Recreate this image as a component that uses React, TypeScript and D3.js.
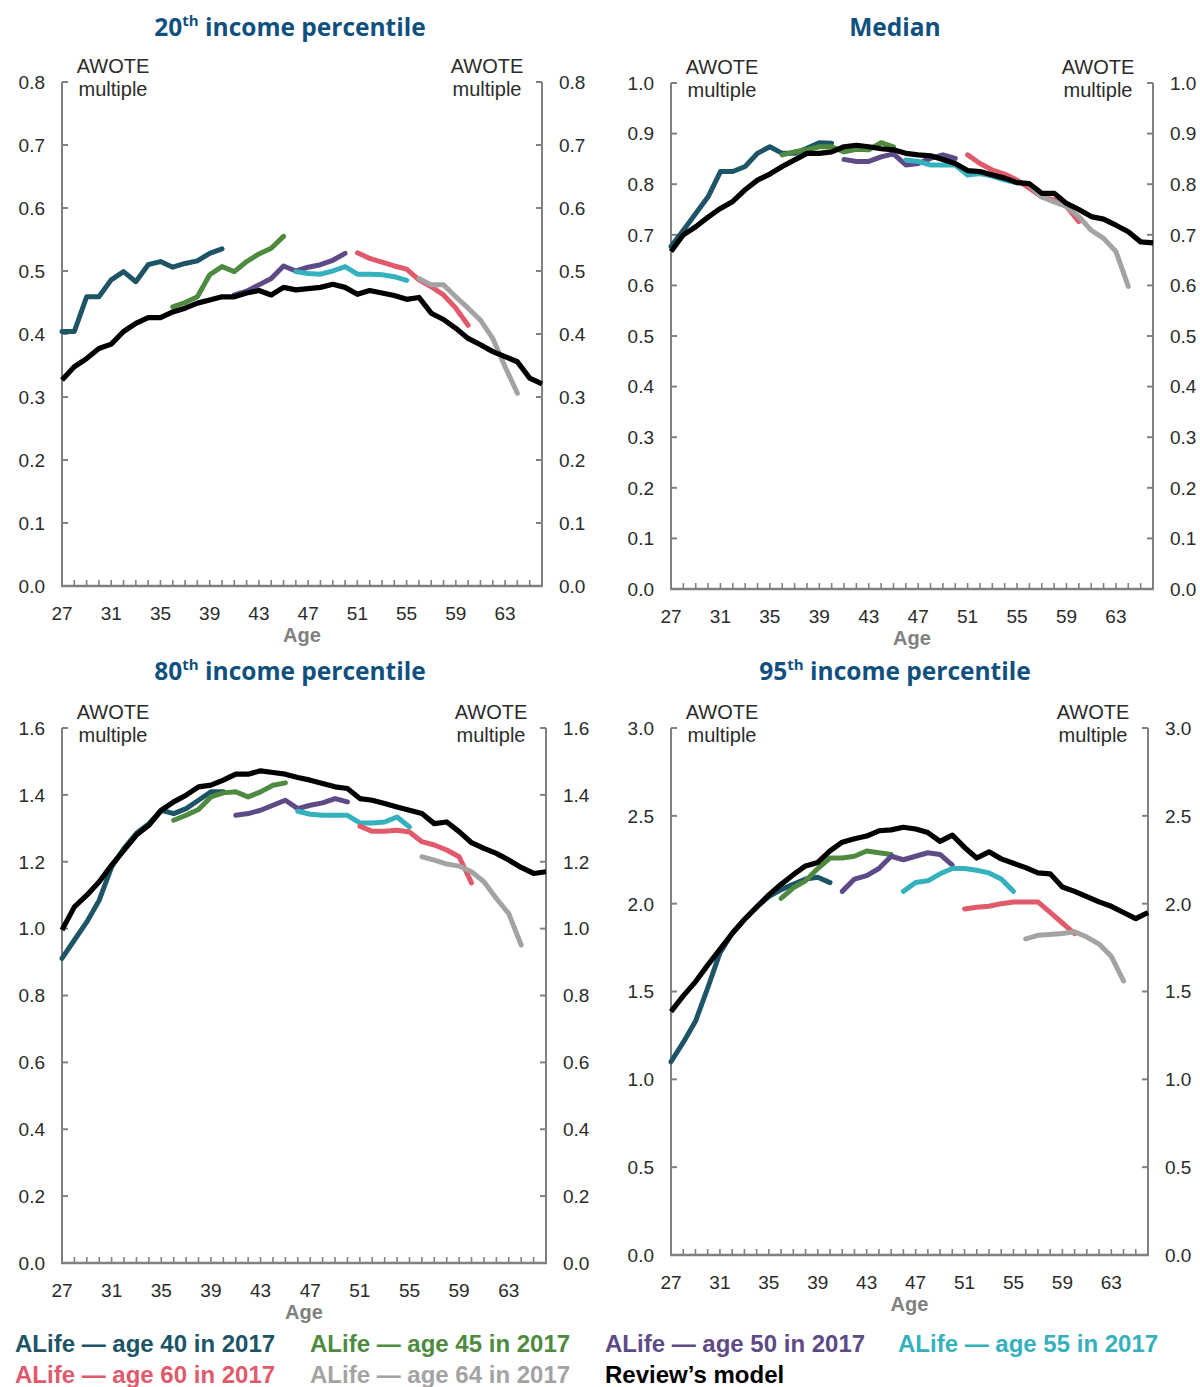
import React from 'react';
import * as d3 from 'd3';

// Ages on the horizontal axis and the labelled ones
const ages = d3.range(27, 67);
const ageTickLabels = [27, 31, 35, 39, 43, 47, 51, 55, 59, 63];

// ALife cohorts: legend text, colour and first age observed
const cohortNames = [
  'ALife \u2014 age 40 in 2017',
  'ALife \u2014 age 45 in 2017',
  'ALife \u2014 age 50 in 2017',
  'ALife \u2014 age 55 in 2017',
  'ALife \u2014 age 60 in 2017',
  'ALife \u2014 age 64 in 2017',
];
const cohortColors = ['#1d5466', '#4e8a3f', '#5e4a86', '#35b1bd', '#e05a6c', '#a3a3a3'];
const cohortFirstAge = [27, 36, 41, 46, 51, 56];
const modelName = 'Review\u2019s model';
const modelColor = '#000000';

// 20th income percentile (AWOTE multiple)
const p20Model = [0.327, 0.348, 0.361, 0.377, 0.384, 0.404, 0.417, 0.426, 0.426, 0.435, 0.441, 0.449, 0.454, 0.459, 0.459, 0.465, 0.469, 0.462, 0.474, 0.470, 0.472, 0.474, 0.479, 0.474, 0.463, 0.469, 0.465, 0.461, 0.455, 0.458, 0.433, 0.423, 0.409, 0.393, 0.383, 0.372, 0.364, 0.356, 0.330, 0.321];
const p20Age40 = [0.404, 0.404, 0.459, 0.459, 0.486, 0.499, 0.483, 0.510, 0.515, 0.506, 0.512, 0.516, 0.528, 0.535];
const p20Age45 = [0.443, 0.450, 0.459, 0.494, 0.507, 0.499, 0.515, 0.527, 0.536, 0.555];
const p20Age50 = [0.462, 0.468, 0.478, 0.488, 0.508, 0.500, 0.506, 0.510, 0.517, 0.528];
const p20Age55 = [0.499, 0.496, 0.495, 0.500, 0.507, 0.495, 0.495, 0.494, 0.491, 0.485];
const p20Age60 = [0.529, 0.520, 0.514, 0.508, 0.503, 0.486, 0.475, 0.462, 0.441, 0.414];
const p20Age64 = [0.488, 0.478, 0.478, 0.459, 0.441, 0.422, 0.393, 0.348, 0.306];
const p20Ticks = [0, 0.1, 0.2, 0.3, 0.4, 0.5, 0.6, 0.7, 0.8];

// Median
const medModel = [0.667, 0.700, 0.716, 0.735, 0.752, 0.766, 0.789, 0.808, 0.820, 0.835, 0.848, 0.861, 0.861, 0.864, 0.874, 0.877, 0.874, 0.870, 0.868, 0.861, 0.858, 0.856, 0.849, 0.841, 0.827, 0.825, 0.818, 0.812, 0.803, 0.801, 0.782, 0.782, 0.762, 0.750, 0.736, 0.731, 0.719, 0.706, 0.686, 0.684];
const medAge40 = [0.677, 0.709, 0.742, 0.775, 0.825, 0.825, 0.835, 0.861, 0.874, 0.861, 0.861, 0.871, 0.882, 0.881];
const medAge45 = [0.858, 0.864, 0.868, 0.874, 0.874, 0.864, 0.869, 0.868, 0.882, 0.874];
const medAge50 = [0.849, 0.845, 0.845, 0.854, 0.860, 0.838, 0.841, 0.851, 0.858, 0.851];
const medAge55 = [0.848, 0.845, 0.838, 0.838, 0.838, 0.818, 0.821, 0.816, 0.808, 0.803];
const medAge60 = [0.858, 0.841, 0.828, 0.820, 0.808, 0.792, 0.775, 0.769, 0.756, 0.726];
const medAge64 = [0.798, 0.775, 0.765, 0.756, 0.736, 0.709, 0.693, 0.667, 0.598];
const medTicks = [0, 0.1, 0.2, 0.3, 0.4, 0.5, 0.6, 0.7, 0.8, 0.9, 1.0];

// 80th income percentile
const p80Model = [0.996, 1.065, 1.100, 1.140, 1.190, 1.235, 1.280, 1.309, 1.354, 1.379, 1.399, 1.424, 1.429, 1.444, 1.462, 1.462, 1.472, 1.467, 1.462, 1.452, 1.444, 1.434, 1.424, 1.419, 1.389, 1.384, 1.374, 1.364, 1.354, 1.344, 1.314, 1.319, 1.290, 1.257, 1.240, 1.225, 1.205, 1.183, 1.165, 1.170];
const p80Age40 = [0.911, 0.966, 1.020, 1.085, 1.185, 1.240, 1.285, 1.314, 1.354, 1.344, 1.359, 1.384, 1.409, 1.409];
const p80Age45 = [1.324, 1.339, 1.356, 1.394, 1.406, 1.409, 1.394, 1.409, 1.429, 1.436];
const p80Age50 = [1.339, 1.344, 1.354, 1.369, 1.384, 1.359, 1.369, 1.376, 1.389, 1.379];
const p80Age55 = [1.351, 1.342, 1.339, 1.339, 1.339, 1.316, 1.316, 1.319, 1.334, 1.304];
const p80Age60 = [1.306, 1.291, 1.291, 1.294, 1.289, 1.260, 1.250, 1.235, 1.215, 1.137];
const p80Age64 = [1.215, 1.205, 1.193, 1.187, 1.170, 1.140, 1.090, 1.045, 0.951];
const p80Ticks = [0, 0.2, 0.4, 0.6, 0.8, 1.0, 1.2, 1.4, 1.6];

// 95th income percentile
const p95Model = [1.385, 1.475, 1.555, 1.650, 1.740, 1.830, 1.910, 1.980, 2.050, 2.110, 2.165, 2.215, 2.235, 2.300, 2.350, 2.370, 2.385, 2.415, 2.420, 2.435, 2.425, 2.405, 2.355, 2.390, 2.320, 2.260, 2.295, 2.255, 2.230, 2.205, 2.175, 2.170, 2.095, 2.070, 2.040, 2.010, 1.985, 1.950, 1.915, 1.950];
const p95Age40 = [1.10, 1.21, 1.33, 1.52, 1.72, 1.83, 1.91, 1.98, 2.04, 2.08, 2.11, 2.14, 2.15, 2.12];
const p95Age45 = [2.03, 2.09, 2.13, 2.20, 2.26, 2.26, 2.27, 2.30, 2.29, 2.28];
const p95Age50 = [2.07, 2.14, 2.16, 2.20, 2.27, 2.25, 2.27, 2.29, 2.28, 2.22];
const p95Age55 = [2.07, 2.12, 2.13, 2.17, 2.20, 2.20, 2.19, 2.175, 2.14, 2.07];
const p95Age60 = [1.97, 1.98, 1.985, 2.00, 2.01, 2.01, 2.01, 1.95, 1.89, 1.83];
const p95Age64 = [1.80, 1.82, 1.825, 1.83, 1.84, 1.81, 1.77, 1.70, 1.56];
const p95Ticks = [0, 0.5, 1.0, 1.5, 2.0, 2.5, 3.0];

type PanelSpec = {
  titleNum: string;
  titleSup: string;
  titleRest: string;
  cx: number;
  titleY: number;
  x0: number;
  x1: number;
  yTop: number;
  yBottom: number;
  ticks: number[];
  model: number[];
  cohorts: number[][];
};

const panels: PanelSpec[] = [
  { titleNum: '20', titleSup: 'th', titleRest: ' income percentile', cx: 290, titleY: 36, x0: 62, x1: 542, yTop: 82, yBottom: 586, ticks: p20Ticks, model: p20Model, cohorts: [p20Age40, p20Age45, p20Age50, p20Age55, p20Age60, p20Age64] },
  { titleNum: '', titleSup: '', titleRest: 'Median', cx: 895, titleY: 36, x0: 671, x1: 1153, yTop: 83, yBottom: 589, ticks: medTicks, model: medModel, cohorts: [medAge40, medAge45, medAge50, medAge55, medAge60, medAge64] },
  { titleNum: '80', titleSup: 'th', titleRest: ' income percentile', cx: 290, titleY: 680, x0: 62, x1: 546, yTop: 728, yBottom: 1263, ticks: p80Ticks, model: p80Model, cohorts: [p80Age40, p80Age45, p80Age50, p80Age55, p80Age60, p80Age64] },
  { titleNum: '95', titleSup: 'th', titleRest: ' income percentile', cx: 895, titleY: 680, x0: 671, x1: 1148, yTop: 728, yBottom: 1255, ticks: p95Ticks, model: p95Model, cohorts: [p95Age40, p95Age45, p95Age50, p95Age55, p95Age60, p95Age64] },
];

const FONT = "'Liberation Sans', Arial, Helvetica, sans-serif";
const TITLE_FONT = "'Open Sans', 'Noto Sans', sans-serif";
const AXIS = '#808080';
const TEXT = '#2b2b2b';

function Panel({ p }: { p: PanelSpec }) {
  const yMax = p.ticks[p.ticks.length - 1];
  const x = d3.scaleLinear().domain([ages[0], ages[ages.length - 1]]).range([p.x0, p.x1]);
  const y = d3.scaleLinear().domain([0, yMax]).range([p.yBottom, p.yTop]);
  const line = d3
    .line<[number, number]>()
    .x((d) => x(d[0]))
    .y((d) => y(d[1]));
  const fmt = d3.format('.1f');
  const tick = 6;
  const series = p.cohorts.map((vals, i) => ({
    color: cohortColors[i],
    pts: vals.map((v, k) => [cohortFirstAge[i] + k, v] as [number, number]),
  }));
  const modelPts = p.model.map((v, k) => [ages[k], v] as [number, number]);

  return (
    <g>
      <text x={p.cx} y={p.titleY} textAnchor="middle" fontFamily={TITLE_FONT} fontWeight={700} fontSize={24.5} fill="#10507f">
        {p.titleNum && <tspan>{p.titleNum}</tspan>}
        {p.titleSup && (
          <tspan dy={-10} fontSize={15}>
            {p.titleSup}
          </tspan>
        )}
        <tspan dy={p.titleSup ? 10 : 0}>{p.titleRest}</tspan>
      </text>

      {/* axis frame */}
      <line x1={p.x0} x2={p.x0} y1={p.yTop} y2={p.yBottom + 1} stroke={AXIS} strokeWidth={2} />
      <line x1={p.x1} x2={p.x1} y1={p.yTop} y2={p.yBottom + 1} stroke={AXIS} strokeWidth={2} />
      <line x1={p.x0 - 1} x2={p.x1 + 1} y1={p.yBottom} y2={p.yBottom} stroke={AXIS} strokeWidth={2.5} />

      {/* value ticks and labels on both sides */}
      {p.ticks.map((t) => (
        <g key={t}>
          <line x1={p.x0} x2={p.x0 + tick} y1={y(t)} y2={y(t)} stroke={AXIS} strokeWidth={2} />
          <line x1={p.x1} x2={p.x1 - tick} y1={y(t)} y2={y(t)} stroke={AXIS} strokeWidth={2} />
          <text x={p.x0 - 17} y={y(t)} dy="0.36em" textAnchor="end" fontFamily={FONT} fontSize={19} fill={TEXT}>
            {fmt(t)}
          </text>
          <text x={p.x1 + 17} y={y(t)} dy="0.36em" textAnchor="start" fontFamily={FONT} fontSize={19} fill={TEXT}>
            {fmt(t)}
          </text>
        </g>
      ))}

      {/* yearly ticks on the age axis */}
      {ages.slice(1, -1).map((a) => (
        <line key={a} x1={x(a)} x2={x(a)} y1={p.yBottom} y2={p.yBottom - tick} stroke={AXIS} strokeWidth={1.6} />
      ))}
      {ageTickLabels.map((a) => (
        <text key={a} x={x(a)} y={p.yBottom + 34} textAnchor="middle" fontFamily={FONT} fontSize={19} fill={TEXT}>
          {a}
        </text>
      ))}
      <text x={(p.x0 + p.x1) / 2} y={p.yBottom + 56} textAnchor="middle" fontFamily={FONT} fontWeight={700} fontSize={20} fill="#808080">
        Age
      </text>

      {/* unit labels */}
      {[p.x0 + 51, p.x1 - 55].map((cx, i) => (
        <text key={i} x={cx} textAnchor="middle" fontFamily={FONT} fontSize={20} fill={TEXT}>
          <tspan x={cx} y={p.yTop - 9}>AWOTE</tspan>
          <tspan x={cx} y={p.yTop + 14}>multiple</tspan>
        </text>
      ))}

      {/* cohort lines, model on top */}
      {series.map((s, i) => (
        <path key={i} d={line(s.pts) || ''} fill="none" stroke={s.color} strokeWidth={5} strokeLinejoin="round" strokeLinecap="round" />
      ))}
      <path d={line(modelPts) || ''} fill="none" stroke={modelColor} strokeWidth={5.2} strokeLinejoin="round" strokeLinecap="butt" />
    </g>
  );
}

const legendCols = [15, 310, 605, 898];
const legendRows = [1352, 1383];

export default function App() {
  const legendItems = [
    ...cohortNames.map((n, i) => ({ text: n, color: cohortColors[i] })),
    { text: modelName, color: modelColor },
  ];
  return (
    <svg
      width={1200}
      height={1387}
      viewBox="0 0 1200 1387"
      style={{ position: 'absolute', left: 0, top: 0, background: '#ffffff' }}
    >
      <rect x={0} y={0} width={1200} height={1387} fill="#ffffff" />
      {panels.map((p, i) => (
        <Panel key={i} p={p} />
      ))}
      {legendItems.map((it, i) => (
        <text
          key={i}
          x={legendCols[i % 4]}
          y={legendRows[Math.floor(i / 4)]}
          fontFamily={FONT}
          fontWeight={700}
          fontSize={24}
          fill={it.color}
        >
          {it.text}
        </text>
      ))}
    </svg>
  );
}
